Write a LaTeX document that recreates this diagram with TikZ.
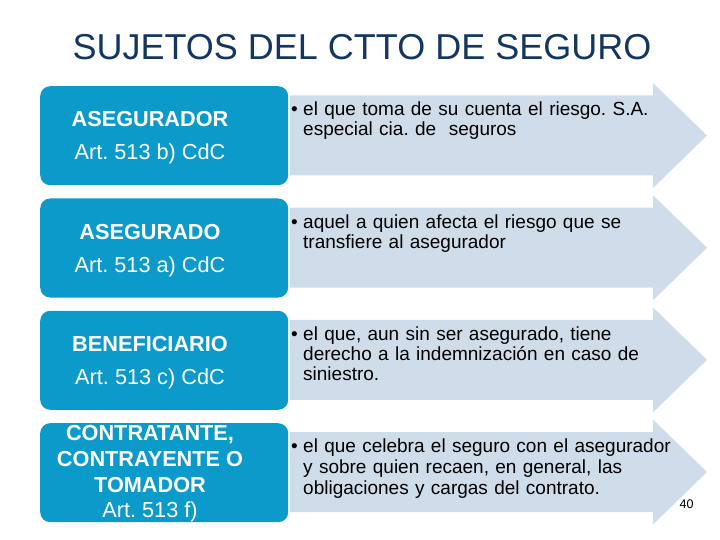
\documentclass[tikz,border=0pt]{standalone}
\usepackage{fontspec}
\setmainfont{Liberation Sans}
\frenchspacing
\definecolor{boxblue}{RGB}{12,154,202}
\definecolor{arrowfill}{RGB}{207,221,235}
\definecolor{titleblue}{RGB}{20,55,97}
\tikzset{
  sidebox/.style={fill=boxblue, draw=none, rounded corners=10pt},
  bigarrow/.style={fill=arrowfill, draw=none},
  boxtext/.style={text=white, align=center, inner sep=0pt, anchor=base,
    font=\fontsize{21.7}{26}\selectfont},
  bullettext/.style={text=black, align=left, inner sep=0pt, anchor=base west,
    text width=372pt, font=\fontsize{19}{20}\selectfont},
  bulletmark/.style={text=black, inner sep=0pt, anchor=base west,
    font=\fontsize{19}{20}\selectfont},
}
\begin{document}
\begin{tikzpicture}[x=1pt,y=-1pt]
\useasboundingbox (0,0) rectangle (720,540);
% title
\node[text=titleblue, inner sep=0pt, anchor=base, font=\fontsize{36}{40}\selectfont] (title) at (362,60) {SUJETOS DEL CTTO DE SEGURO};
% arrows
\foreach \c [count=\i] in {135.5,247.7,359.9,472.0} {
  \fill[bigarrow] (290,\c-40) -- (653,\c-40) -- (653,\c-52.5) -- (707,\c) -- (653,\c+52.5) -- (653,\c+40) -- (290,\c+40) -- cycle;
}
% boxes
\node[sidebox, minimum width=248pt, minimum height=99pt, anchor=north west, inner sep=0pt] (b1) at (40,86) {};
\node[sidebox, minimum width=248pt, minimum height=99pt, anchor=north west, inner sep=0pt] (b2) at (40,198.3) {};
\node[sidebox, minimum width=248pt, minimum height=99pt, anchor=north west, inner sep=0pt] (b3) at (40,310.6) {};
\node[sidebox, minimum width=248pt, minimum height=99pt, anchor=north west, inner sep=0pt] (b4) at (40,423) {};
% box texts
\node[boxtext] (t1a) at (150,127) {\bfseries ASEGURADOR};
\node[boxtext] (t1b) at (150,159.5) {Art. 513 b) CdC};
\node[boxtext] (t2a) at (150,239.5) {\bfseries ASEGURADO};
\node[boxtext] (t2b) at (150,272.5) {Art. 513 a) CdC};
\node[boxtext] (t3a) at (150,351.5) {\bfseries BENEFICIARIO};
\node[boxtext] (t3b) at (150,384.5) {Art. 513 c) CdC};
\node[boxtext] (t4a) at (150,440.5) {\bfseries CONTRATANTE,};
\node[boxtext] (t4b) at (150,466.5) {\bfseries CONTRAYENTE O};
\node[boxtext] (t4c) at (150,492.5) {\bfseries TOMADOR};
\node[boxtext] (t4d) at (150,517.5) {Art. 513 f)};
% bullets
\node[bulletmark] (m1) at (291,116) {\textbullet};
\node[bulletmark] (m2) at (291,228.2) {\textbullet};
\node[bulletmark] (m3) at (291,340.4) {\textbullet};
\node[bulletmark] (m4) at (291,452.5) {\textbullet};
\node[bullettext] (d1) at (303,116) {el que toma de su cuenta el riesgo. S.A.\\especial cia. de \ seguros};
\node[bullettext] (d2) at (303,228.2) {aquel a quien afecta el riesgo que se\\transfiere al asegurador};
\node[bullettext] (d3) at (303,340.4) {el que, aun sin ser asegurado, tiene\\derecho a la indemnización en caso de\\siniestro.};
\node[bullettext, font=\fontsize{19}{21}\selectfont] (d4) at (303,452.5) {el que celebra el seguro con el asegurador\\y sobre quien recaen, en general, las\\obligaciones y cargas del contrato.};
% page number
\node[inner sep=0pt, anchor=base, font=\fontsize{12.5}{14}\selectfont] (pg) at (686.5,508.5) {40};
\end{tikzpicture}
\end{document}
